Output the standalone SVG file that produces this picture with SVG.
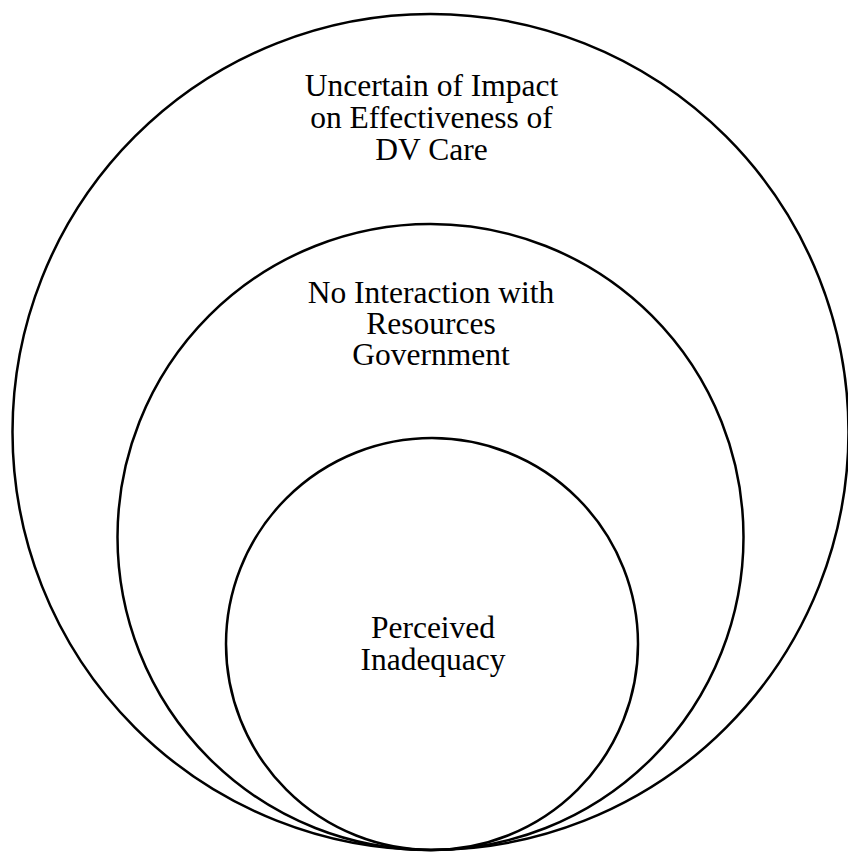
<svg xmlns="http://www.w3.org/2000/svg" width="848" height="852" viewBox="0 0 848 852">
<style>
.c{fill:none;stroke:#000;stroke-width:2.5}
.t{font-family:"Liberation Serif","Times New Roman",serif;font-size:31.5px;fill:#000;text-anchor:middle}
</style>
<rect width="848" height="852" fill="#fff"/>
<g id="outer">
<circle class="c" cx="430.5" cy="432" r="418"/>
<text class="t" x="431.5" y="96">Uncertain of Impact</text>
<text class="t" x="431.5" y="128">on Effectiveness of</text>
<text class="t" x="431.5" y="160">DV Care</text>
</g>
<g id="middle">
<circle class="c" cx="430.5" cy="537" r="313"/>
<text class="t" x="431" y="303">No Interaction with</text>
<text class="t" x="431" y="334">Resources</text>
<text class="t" x="431" y="365">Government</text>
</g>
<g id="inner">
<circle class="c" cx="432" cy="644" r="206"/>
<text class="t" x="433" y="638">Perceived</text>
<text class="t" x="433" y="670">Inadequacy</text>
</g>
<g id="connectors"/>
</svg>
